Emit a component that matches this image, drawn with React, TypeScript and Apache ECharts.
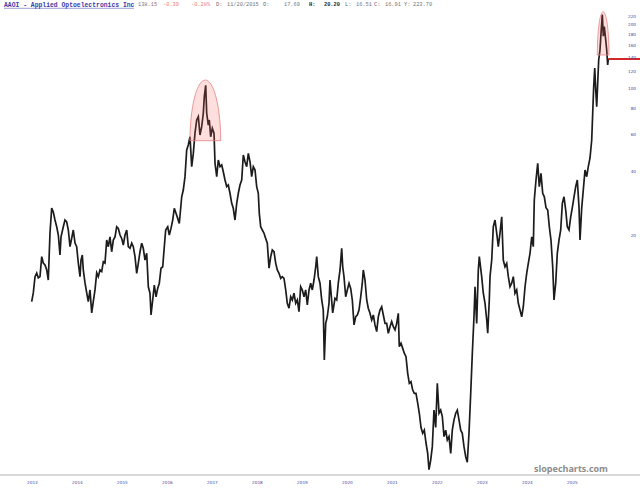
import React, { useEffect, useRef } from "react";
import * as echarts from "echarts";

const dates = [
  2013.704, 2013.740, 2013.778, 2013.816, 2013.851, 2013.889, 2013.927, 2013.962, 2014.000, 2014.038,
  2014.073, 2014.111, 2014.149, 2014.184, 2014.222, 2014.260, 2014.296, 2014.333, 2014.356, 2014.407,
  2014.444, 2014.482, 2014.518, 2014.556, 2014.593, 2014.629, 2014.667, 2014.704, 2014.740, 2014.778,
  2014.800, 2014.829, 2014.851, 2014.889, 2014.927, 2014.962, 2015.000, 2015.038, 2015.073, 2015.111,
  2015.149, 2015.184, 2015.222, 2015.260, 2015.296, 2015.333, 2015.371, 2015.407, 2015.444, 2015.482,
  2015.518, 2015.556, 2015.593, 2015.629, 2015.667, 2015.704, 2015.740, 2015.778, 2015.816, 2015.851,
  2015.889, 2015.927, 2015.962, 2016.000, 2016.038, 2016.073, 2016.111, 2016.149, 2016.184, 2016.222,
  2016.260, 2016.296, 2016.333, 2016.356, 2016.393, 2016.429, 2016.467, 2016.504, 2016.540, 2016.578,
  2016.616, 2016.651, 2016.682, 2016.727, 2016.762, 2016.800, 2016.838, 2016.873, 2016.911, 2016.949,
  2016.984, 2017.038, 2017.073, 2017.111, 2017.149, 2017.184, 2017.222, 2017.260, 2017.296, 2017.333,
  2017.371, 2017.407, 2017.444, 2017.482, 2017.518, 2017.540, 2017.571, 2017.593, 2017.629, 2017.651,
  2017.682, 2017.718, 2017.756, 2017.778, 2017.816, 2017.851, 2017.889, 2017.927, 2017.962, 2018.000,
  2018.038, 2018.073, 2018.111, 2018.149, 2018.184, 2018.222, 2018.260, 2018.296, 2018.333, 2018.371,
  2018.407, 2018.444, 2018.482, 2018.518, 2018.556, 2018.593, 2018.629, 2018.667, 2018.704, 2018.740,
  2018.762, 2018.793, 2018.829, 2018.867, 2018.904, 2018.940, 2018.978, 2019.016, 2019.051, 2019.089,
  2019.127, 2019.162, 2019.200, 2019.238, 2019.273, 2019.311, 2019.349, 2019.384, 2019.422, 2019.460,
  2019.496, 2019.533, 2019.571, 2019.607, 2019.644, 2019.682, 2019.718, 2019.756, 2019.793, 2019.829,
  2019.867, 2019.904, 2019.940, 2019.978, 2020.016, 2020.038, 2020.073, 2020.111, 2020.149, 2020.184,
  2020.207, 2020.238, 2020.273, 2020.311, 2020.333, 2020.393, 2020.444, 2020.482, 2020.518, 2020.556,
  2020.593, 2020.616, 2020.644, 2020.682, 2020.718, 2020.756, 2020.793, 2020.829, 2020.867, 2020.904,
  2020.940, 2020.978, 2021.016, 2021.051, 2021.073, 2021.111, 2021.149, 2021.184, 2021.222, 2021.260,
  2021.296, 2021.333, 2021.371, 2021.407, 2021.444, 2021.482, 2021.518, 2021.556, 2021.593, 2021.629,
  2021.667, 2021.704, 2021.740, 2021.778, 2021.816, 2021.851, 2021.873, 2021.911, 2021.949, 2021.984,
  2022.022, 2022.060, 2022.096, 2022.133, 2022.171, 2022.207, 2022.244, 2022.282, 2022.318, 2022.356,
  2022.393, 2022.429, 2022.467, 2022.504, 2022.533, 2022.571, 2022.607, 2022.644, 2022.682, 2022.718,
  2022.756, 2022.793, 2022.829, 2022.867, 2022.904, 2022.940, 2022.978, 2023.016, 2023.051, 2023.089,
  2023.127, 2023.162, 2023.200, 2023.238, 2023.273, 2023.311, 2023.349, 2023.384, 2023.422, 2023.460,
  2023.496, 2023.533, 2023.556, 2023.593, 2023.629, 2023.651, 2023.704, 2023.740, 2023.778, 2023.816,
  2023.838, 2023.873, 2023.889, 2023.927, 2023.962, 2024.000, 2024.038, 2024.073, 2024.111, 2024.149,
  2024.184, 2024.222, 2024.260, 2024.296, 2024.333, 2024.371, 2024.407, 2024.444, 2024.482, 2024.518,
  2024.556, 2024.593, 2024.629, 2024.667, 2024.704, 2024.740, 2024.778, 2024.816, 2024.851, 2024.873,
  2024.911, 2024.949, 2024.984, 2025.022, 2025.060, 2025.096, 2025.133, 2025.171, 2025.207, 2025.244,
  2025.282, 2025.311, 2025.349, 2025.384, 2025.422, 2025.460, 2025.496, 2025.533, 2025.571, 2025.607,
  2025.644, 2025.682, 2025.718, 2025.756, 2025.793, 2025.829, 2025.867, 2025.889, 2025.927, 2025.962,
  2026.000, 2026.038, 2026.073, 2026.111, 2026.149, 2026.171, 2026.193, 2026.216, 2026.238, 2026.260,
  2026.282, 2026.304, 2026.333, 2026.356, 2026.384, 2026.407, 2026.429, 2026.460, 2026.482, 2026.504,
  2026.518,
];

const prices = [
  9.64, 10.61, 12.68, 13.2, 12.5, 12.68, 15.78, 14.72, 14.4, 13.64,
  12.22, 20.45, 26.9, 25.74, 23.57, 21.9, 20.0, 16.07, 19.6, 21.9,
  23.57, 23.1, 21.13, 17.6, 19.3, 21.13, 18.33, 17.6, 14.72, 12.68,
  15.21, 16.07, 13.64, 11.83, 10.61, 9.64, 10.96, 8.52, 9.64, 10.96,
  13.2, 12.68, 13.64, 13.4, 14.93, 14.72, 18.93, 17.6, 19.6, 16.65,
  18.93, 19.6, 21.9, 21.5, 20.0, 19.27, 17.93, 20.0, 21.13, 17.6,
  17.3, 18.3, 17.6, 15.78, 13.15, 14.67, 16.65, 18.3, 17.3, 15.21,
  16.37, 11.35, 10.57, 8.33, 9.82, 11.57, 10.17, 11.15, 11.8, 13.9,
  14.13, 17.6, 21.13, 21.9, 20.0, 21.5, 23.57, 26.8, 25.36, 24.0,
  22.7, 30.4, 32.74, 37.9, 50.75, 53.6, 58.7, 42.3, 48.9, 61.0,
  70.49, 73.1, 59.81, 65.5, 75.9, 91.0, 103.0, 75.9, 66.73, 70.49,
  58.7, 64.4, 61.0, 43.9, 37.9, 45.48, 42.3, 43.06, 40.0, 36.53,
  34.0, 34.59, 31.6, 28.3, 26.8, 23.57, 28.3, 31.6, 34.59, 36.53,
  48.04, 44.6, 42.3, 48.9, 44.6, 37.9, 42.3, 40.76, 34.0, 31.6,
  25.36, 21.9, 21.13, 20.4, 19.27, 18.3, 13.9, 15.78, 16.97, 16.65,
  14.67, 13.64, 13.15, 12.45, 12.68, 12.45, 10.96, 9.47, 8.97, 10.17,
  9.82, 10.57, 9.47, 9.82, 8.64, 11.35, 10.96, 10.17, 10.96, 9.3,
  10.96, 11.8, 10.96, 12.22, 14.13, 15.78, 12.68, 11.8, 9.82, 8.8,
  5.09, 7.6, 8.17, 9.47, 12.22, 8.52, 10.0, 9.82, 11.83, 13.64,
  17.3, 14.13, 12.68, 10.17, 10.96, 11.8, 11.15, 9.82, 7.47, 8.17,
  8.33, 8.8, 10.17, 11.8, 13.64, 12.22, 9.82, 8.97, 8.49, 7.89,
  8.33, 7.47, 6.94, 8.17, 8.8, 9.12, 8.33, 7.6, 7.6, 6.82,
  7.33, 7.75, 7.33, 7.07, 7.6, 8.49, 5.89, 6.12, 5.78, 5.48,
  5.28, 4.4, 3.94, 4.01, 3.66, 3.53, 3.53, 3.17, 2.84, 2.43,
  2.28, 2.36, 2.05, 1.83, 1.53, 1.7, 1.97, 2.94, 2.43, 3.94,
  2.84, 2.94, 2.74, 2.2, 2.36, 2.12, 2.2, 1.83, 2.36, 2.64,
  2.84, 2.94, 2.64, 2.36, 2.28, 1.97, 1.76, 1.66, 2.28, 3.53,
  5.48, 8.17, 11.35, 7.6, 13.64, 15.78, 12.68, 10.57, 9.47, 7.89,
  6.82, 9.82, 12.68, 15.21, 21.9, 23.57, 20.4, 17.6, 20.4, 24.4,
  15.21, 14.13, 14.67, 12.68, 11.35, 11.8, 12.68, 10.57, 10.96, 9.47,
  8.8, 8.17, 9.12, 11.35, 13.15, 14.67, 16.37, 19.6, 17.6, 29.35,
  36.53, 43.9, 34.0, 39.3, 31.6, 30.4, 27.0, 26.3, 21.9, 18.93,
  14.13, 9.82, 11.8, 16.37, 18.93, 21.13, 28.3, 30.4, 26.3, 21.9,
  21.13, 24.4, 27.0, 30.4, 34.0, 36.53, 27.0, 18.93, 27.0, 32.74,
  40.76, 37.9, 42.3, 46.5, 56.62, 75.9, 101.5, 124.5, 97.9, 81.6,
  105.4, 136.0, 151.8, 182.3, 223.7, 176.6, 196.0, 169.3, 151.8, 128.8,
  138.15,
];

const yearTickPositions = [
  2013.72, 2014.72, 2015.72, 2016.72, 2017.72, 2018.72, 2019.72,
  2020.72, 2021.72, 2022.72, 2023.72, 2024.72, 2025.72,
];
const yearLabels = [
  "2013", "2014", "2015", "2016", "2017", "2018", "2019",
  "2020", "2021", "2022", "2023", "2024", "2025",
];
const priceTicks = [20, 40, 60, 80, 100, 120, 140, 160, 180, 200, 220];
const lastPrice = 138.15;

// highlighted zones: start date, end date, low price, high price
const zoneStarts = [2017.222, 2026.273];
const zoneEnds = [2017.904, 2026.533];
const zoneLows = [56.2, 143.7];
const zoneHighs = [109.2, 230.8];

const X_MIN = 2013;
const X_MAX = 2027.222;
const Y_MIN = 1.444;
const Y_MAX = 262.4;

const headerTokens = [
  { text: "138.15", x: 138, color: "#7a7a7a", bold: false },
  { text: "-0.39", x: 163, color: "#f07a7a", bold: false },
  { text: "-0.28%", x: 191, color: "#f07a7a", bold: false },
  { text: "D:", x: 216, color: "#666666", bold: false },
  { text: "11/20/2015", x: 227, color: "#777777", bold: false },
  { text: "O:", x: 263, color: "#666666", bold: false },
  { text: "17.69", x: 284, color: "#777777", bold: false },
  { text: "H:", x: 309, color: "#222222", bold: true },
  { text: "20.20", x: 324, color: "#222222", bold: true },
  { text: "L:", x: 345, color: "#666666", bold: false },
  { text: "16.51", x: 356, color: "#777777", bold: false },
  { text: "C:", x: 374, color: "#666666", bold: false },
  { text: "16.91", x: 385, color: "#777777", bold: false },
  { text: "Y:", x: 404, color: "#666666", bold: false },
  { text: "223.70", x: 413, color: "#777777", bold: false },
];

export default function App() {
  const ref = useRef<HTMLDivElement>(null);

  useEffect(() => {
    if (!ref.current) return;
    const chart = echarts.init(ref.current, null, { renderer: "svg" });
    const data = dates.map((d, i) => [d, prices[i]]);
    const lastDate = dates[dates.length - 1];

    chart.setOption({
      animation: false,
      backgroundColor: "#ffffff",
      grid: { left: 0, right: 0, top: 0, bottom: 16, containLabel: false, outerBoundsMode: "none" },
      xAxis: {
        type: "value",
        min: X_MIN,
        max: X_MAX,
        splitLine: { show: false },
        axisTick: { show: false },
        axisLine: { show: true, onZero: false, lineStyle: { color: "#cdcdcd", width: 1.6 } },
        axisLabel: {
          customValues: yearTickPositions,
          formatter: (v: number) => {
            let best = 0;
            yearTickPositions.forEach((p, i) => {
              if (Math.abs(p - v) < Math.abs(yearTickPositions[best] - v)) best = i;
            });
            return yearLabels[best];
          },
          fontSize: 4.2,
          color: "#4646a0",
          margin: 5,
          fontFamily: "DejaVu Sans",
        },
      },
      yAxis: {
        type: "log",
        min: Y_MIN,
        max: Y_MAX,
        position: "right",
        axisLine: { show: false },
        axisTick: { show: false },
        splitLine: { show: false },
        axisLabel: { show: false },
      },
      series: [
        {
          type: "line",
          data,
          showSymbol: false,
          symbol: "none",
          lineStyle: { color: "#1c1c1c", width: 1.7, join: "miter" },
          z: 2,
          markLine: {
            silent: true,
            symbol: ["none", "none"],
            label: { show: false },
            lineStyle: { color: "#cc1111", width: 1.8, type: "solid" },
            data: [[{ coord: [lastDate, lastPrice] }, { coord: [X_MAX, lastPrice] }]],
          },
        },
      ],
    });

    const toPx = (x: number, y: number) =>
      chart.convertToPixel({ gridIndex: 0 }, [x, y]) as number[];

    const graphics: any[] = [];

    // highlight arches
    zoneStarts.forEach((x0, i) => {
      const a = toPx(x0, zoneLows[i]);
      const b = toPx(zoneEnds[i], zoneHighs[i]);
      const cx = (a[0] + b[0]) / 2;
      const rx = (b[0] - a[0]) / 2;
      const base = a[1];
      const ry = a[1] - b[1];
      const pts: number[][] = [];
      for (let k = 0; k <= 60; k++) {
        const t = (Math.PI * k) / 60;
        pts.push([cx + rx * Math.cos(t), base - ry * Math.sin(t)]);
      }
      graphics.push({
        type: "polygon",
        shape: { points: pts },
        style: { fill: "rgba(255,90,90,0.2)", stroke: "#e58080", lineWidth: 0.8 },
        z: 10,
        silent: true,
      });
    });

    // price axis labels
    priceTicks.forEach((t) => {
      const p = toPx(X_MAX, t);
      graphics.push({
        type: "text",
        x: p[0] - 4,
        y: p[1],
        style: {
          text: String(t),
          fontSize: 4.2,
          fontFamily: "DejaVu Sans",
          fill: "#4646a0",
          align: "right",
          verticalAlign: "middle",
        },
        z: 11,
        silent: true,
      });
    });

    // header
    graphics.push({
      type: "text",
      x: 4,
      y: 5,
      style: {
        text: "AAOI - Applied Optoelectronics Inc",
        fontSize: 6.4,
        fontFamily: "Liberation Mono",
        fontWeight: "bold",
        fill: "#3a3aa8",
        verticalAlign: "middle",
      },
      z: 11,
    });
    graphics.push({
      type: "line",
      shape: { x1: 4, y1: 8.3, x2: 134, y2: 8.3 },
      style: { stroke: "#5a5ab8", lineWidth: 0.6 },
      z: 11,
    });
    headerTokens.forEach((tk) => {
      graphics.push({
        type: "text",
        x: tk.x,
        y: 5,
        style: {
          text: tk.text,
          fontSize: 5.3,
          fontFamily: "Liberation Mono",
          fontWeight: tk.bold ? "bold" : "normal",
          fill: tk.color,
          verticalAlign: "middle",
        },
        z: 11,
      });
    });

    // watermark
    graphics.push({
      type: "text",
      x: 571,
      y: 468.5,
      style: {
        text: "slopecharts.com",
        fontSize: 9,
        fontFamily: "Open Sans",
        fontWeight: "bold",
        fill: "#8c8c8c",
        align: "center",
        verticalAlign: "middle",
      },
      z: 11,
    });

    chart.setOption({ graphic: graphics });

    return () => chart.dispose();
  }, []);

  return (
    <div
      ref={ref}
      style={{ position: "fixed", left: 0, top: 0, width: 640, height: 491, background: "#fff" }}
    />
  );
}
